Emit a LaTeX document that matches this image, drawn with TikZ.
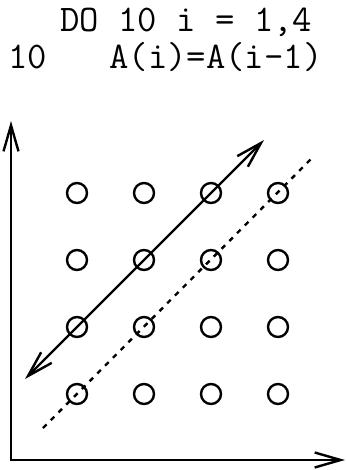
\documentclass[tikz,border=0pt]{standalone}
\usepackage{tikz}
\usetikzlibrary{arrows.meta}

\begin{document}
\begin{tikzpicture}[
  x=0.5pt, y=-0.5pt,
  code/.style={font=\fontsize{18.8pt}{22pt}\selectfont\ttfamily, inner sep=0pt, anchor=base west},
  iter/.style={circle, draw, line width=1.2pt, minimum size=10pt, inner sep=0pt},
  barb/.style={line width=1.2pt, {Straight Barb[length=13pt,width=7.5pt]}-{Straight Barb[length=13pt,width=7.5pt]}},
  dep/.style={line width=1.2pt, dash pattern=on 2.5pt off 3pt}
]
\useasboundingbox (0,0) rectangle (347,470);
\node[code] (loop) at (60,32) {DO 10 i = 1,4};
\node[code] (label) at (8,69) {10};
\node[code] (stmt) at (109,69) {A(i)=A(i-1)};
\coordinate (origin) at (11,460);
\coordinate (ytop) at (11,121);
\coordinate (xend) at (345,460);
\draw[barb, line join=miter] (ytop) -- (origin) -- (xend);
\foreach \i in {1,...,4}
  \foreach \j in {1,...,4}
    \node[iter] (c\i\j) at ({77+67*(\i-1)}, {394-67*(\j-1)}) {};
\coordinate (sa) at (25,379);
\coordinate (sb) at (264,140);
\draw[barb] (sa) -- (sb);
\coordinate (da) at (43,428);
\coordinate (db) at (313,157);
\draw[dep] (da) -- (db);
\end{tikzpicture}
\end{document}
